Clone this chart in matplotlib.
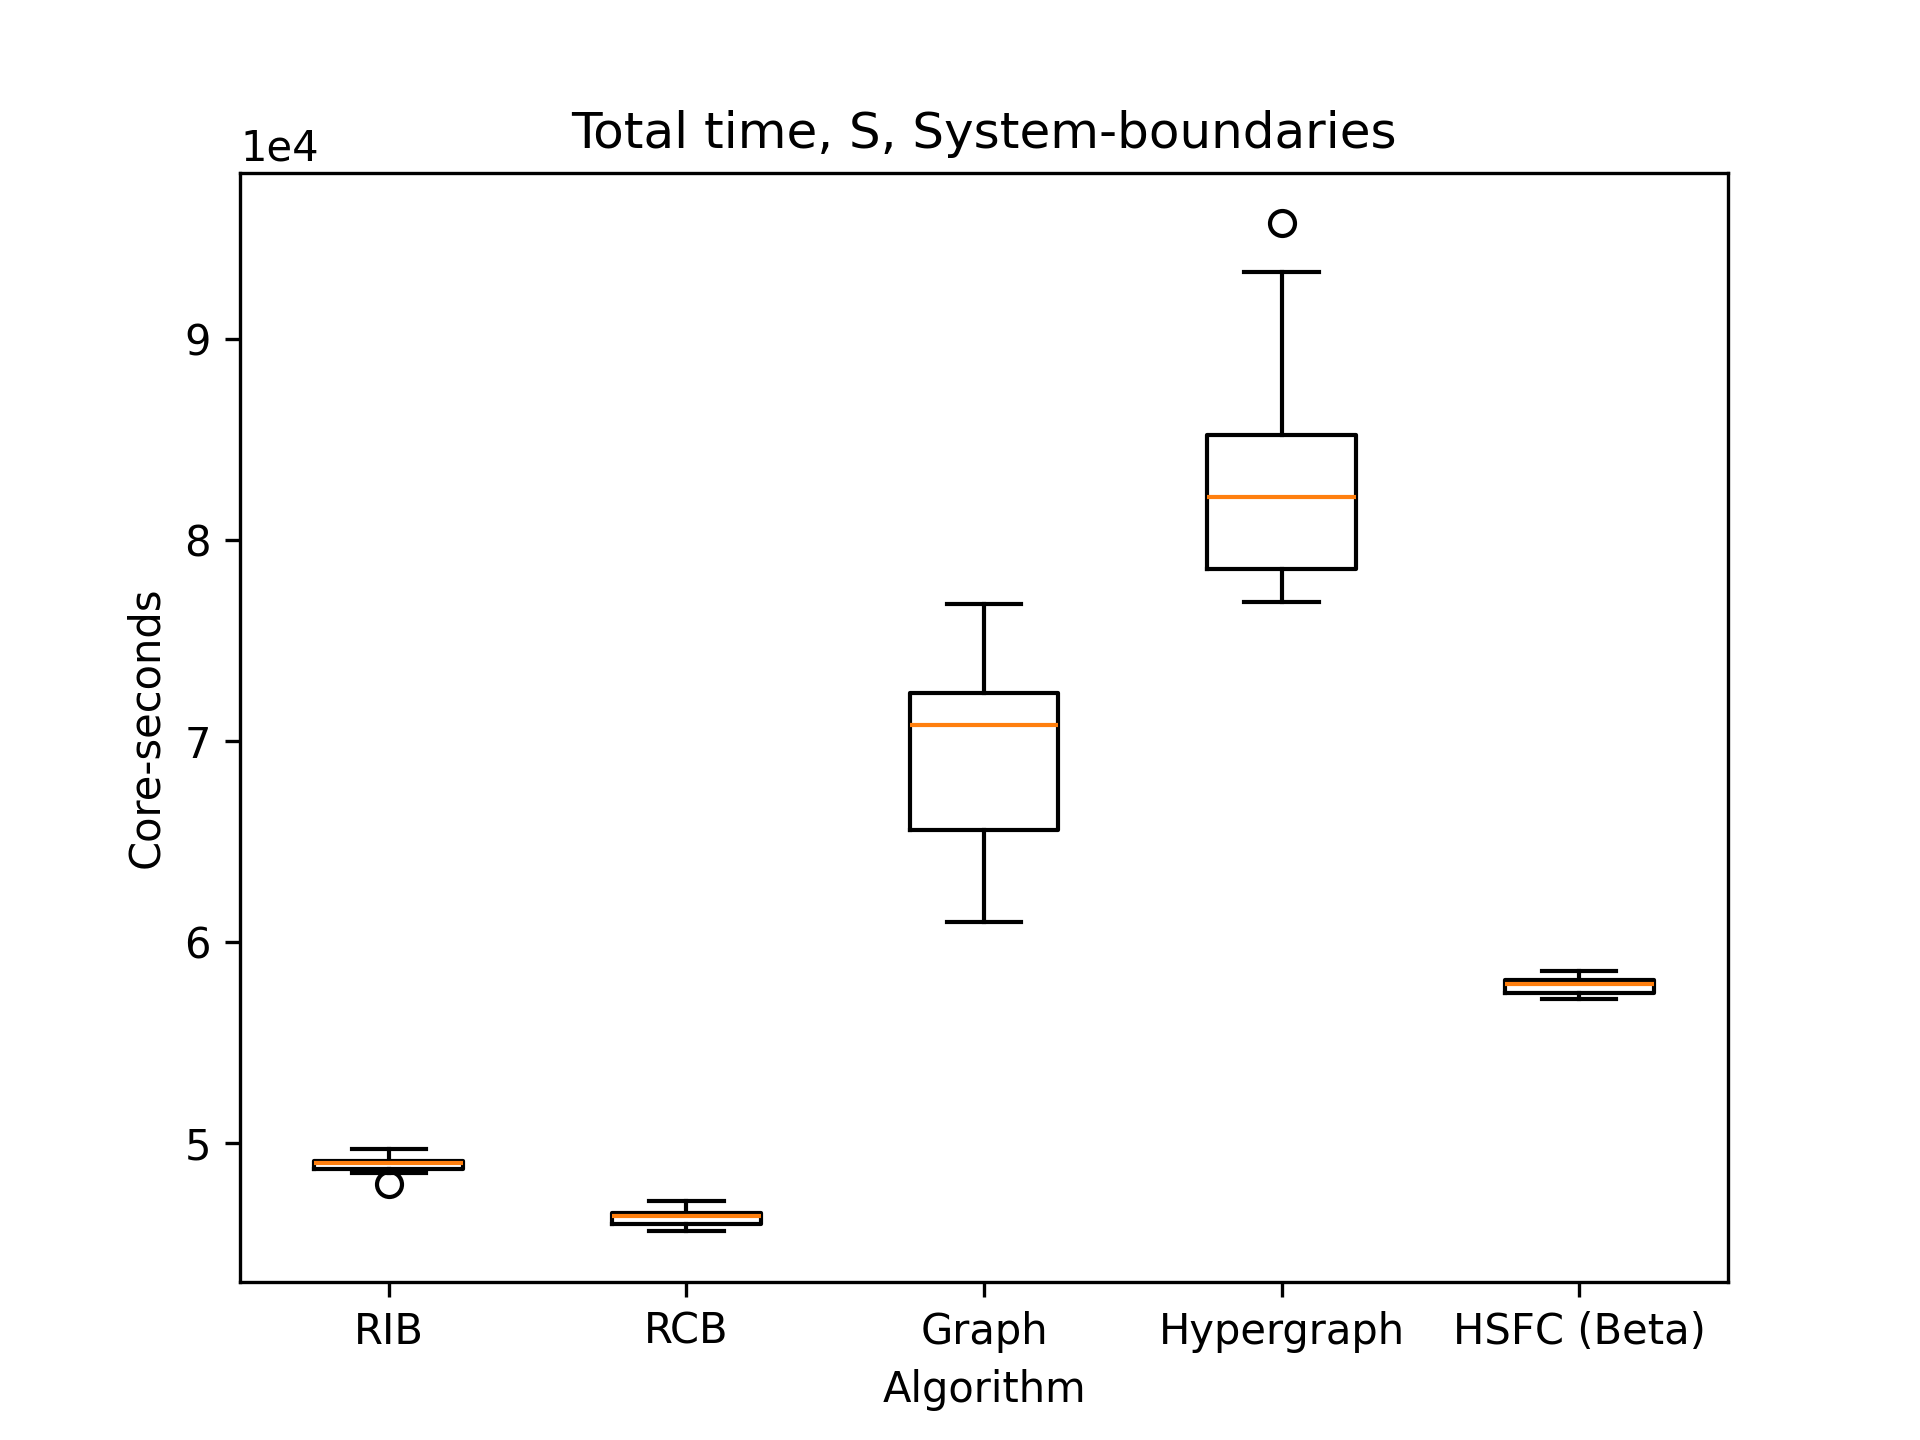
import matplotlib
matplotlib.use("Agg")
import matplotlib.pyplot as plt

algorithms = ["RIB", "RCB", "Graph", "Hypergraph", "HSFC (Beta)"]
# values in core-seconds
whisker_low = [48500, 45610, 61000, 76930, 57150]
q1 = [48720, 45960, 65600, 78550, 57480]
median = [48990, 46350, 70810, 82160, 57910]
q3 = [49080, 46540, 72390, 85250, 58090]
whisker_high = [49680, 47100, 76830, 93350, 58540]
outliers = [[47960], [], [], [95780], []]

stats = []
for i, name in enumerate(algorithms):
    stats.append(dict(label=name, whislo=whisker_low[i], q1=q1[i], med=median[i],
                      q3=q3[i], whishi=whisker_high[i], fliers=outliers[i]))

fig, ax = plt.subplots(figsize=(6.4, 4.8), dpi=300)
ax.bxp(stats, positions=range(1, len(algorithms) + 1), widths=0.5)
ax.set_title("Total time, S, System-boundaries")
ax.set_xlabel("Algorithm")
ax.set_ylabel("Core-seconds")
ax.ticklabel_format(axis="y", style="sci", scilimits=(0, 0))
fig.savefig("out.png", dpi=300)
